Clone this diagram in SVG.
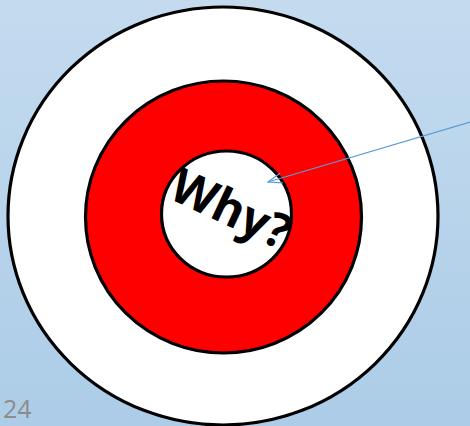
<svg xmlns="http://www.w3.org/2000/svg" width="470" height="426" viewBox="0 0 470 426">
<defs>
<linearGradient id="bg" x1="0" y1="0" x2="0" y2="1">
<stop offset="0" stop-color="#c4dbef"/>
<stop offset="1" stop-color="#accce7"/>
</linearGradient>
<marker id="ah" viewBox="0 0 16 12" refX="15" refY="6" markerWidth="16" markerHeight="12" markerUnits="userSpaceOnUse" orient="auto">
<path d="M1,1 L15,6 L1,11" fill="none" stroke="#5b9bd5" stroke-width="1.2"/>
</marker>
<style>
.ring{stroke:#000;stroke-width:3.2}
.lbl{font-family:"Open Sans","Liberation Sans",sans-serif;font-weight:bold;fill:#000}
.conn{stroke:#5b9bd5;stroke-width:1.2;fill:none}
</style>
</defs>
<rect x="0" y="0" width="470" height="426" fill="url(#bg)"/>
<g id="outer"><ellipse cx="223" cy="216" rx="215" ry="209" fill="#fff" class="ring"/></g>
<g id="middle"><ellipse cx="223.5" cy="217" rx="138" ry="136" fill="#ff0000" class="ring"/></g>
<g id="inner"><ellipse cx="226.5" cy="214" rx="65" ry="63" fill="#fff" class="ring"/>
<text class="lbl" x="0" y="0" font-size="48" text-anchor="middle" transform="translate(224,224) rotate(25)" textLength="126" lengthAdjust="spacingAndGlyphs">Why?</text>
</g>
<g id="connectors"><line class="conn" x1="470" y1="122" x2="268" y2="182" marker-end="url(#ah)"/></g>
<text x="3" y="418" font-family="'Open Sans','Liberation Sans',sans-serif" font-size="25" fill="#8c8c8c">24</text>
</svg>
